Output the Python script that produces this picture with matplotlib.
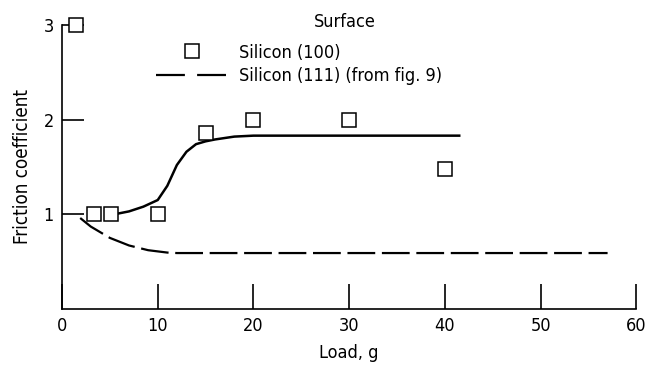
import matplotlib
matplotlib.use("Agg")
import matplotlib.pyplot as plt
from matplotlib.lines import Line2D

# Silicon (100) measured points
load_100 = [1.5, 3.3, 5.1, 10, 15, 20, 30, 40]
mu_100 = [3.0, 1.0, 1.0, 1.0, 1.86, 2.0, 2.0, 1.48]

# faired curve through silicon (100) data
fit_load = [5.5, 7, 8.5, 10, 11, 12, 13, 14, 15, 16, 18, 20, 41.5]
fit_mu = [1.0, 1.03, 1.08, 1.15, 1.30, 1.52, 1.66, 1.74, 1.77, 1.79, 1.82, 1.83, 1.83]

# silicon (111) from fig. 9
load_111 = [1.9, 3, 5, 7, 9, 11, 12, 20, 57]
mu_111 = [0.96, 0.87, 0.75, 0.67, 0.62, 0.595, 0.59, 0.59, 0.59]

xticks = [0, 10, 20, 30, 40, 50, 60]
yticks = [1, 2, 3]
labels = ['Silicon (100)', 'Silicon (111) (from fig. 9)']

plt.rcParams['font.family'] = ['DejaVu Sans']
plt.rcParams['font.stretch'] = 'condensed'

fig = plt.figure(figsize=(6.46, 3.66), dpi=100)
ax = fig.add_axes([0.096, 0.156, 0.889, 0.776])

ax.plot(fit_load, fit_mu, color='black', lw=1.8, zorder=2)
ax.plot(load_111, mu_111, color='black', lw=1.6, dashes=(12.5, 3), zorder=2)
ax.plot(load_100, mu_100, ls='none', marker='s', ms=10, mfc='white', mec='black',
        mew=1.1, clip_on=False, zorder=3)

ax.set_xlim(0, 60)
ax.set_ylim(0, 3)
ax.set_xticks(xticks)
ax.set_yticks(yticks)
ax.tick_params(axis='x', direction='in', length=18, width=1.2, labelsize=13, pad=6)
ax.tick_params(axis='y', direction='in', length=16, width=1.2, labelsize=13, pad=6)
for s in ['top', 'right']:
    ax.spines[s].set_visible(False)
for s in ['left', 'bottom']:
    ax.spines[s].set_linewidth(1.2)

ax.set_xlabel('Load, g', fontsize=13, labelpad=6)
ax.set_ylabel('Friction coefficient', fontsize=13.5, labelpad=8)

# legend
h_sq = Line2D([], [], ls='none', marker='s', ms=10, mfc='white', mec='black', mew=1.1)
h_ds = Line2D([], [], color='black', lw=1.6, dashes=(13, 5.5))
ax.legend([h_sq, h_ds], labels, frameon=False, fontsize=13,
          loc='upper left', bbox_to_anchor=(0.164, 0.934),
          handlelength=4.0, handletextpad=0.6, labelspacing=0.3, borderpad=0,
          borderaxespad=0)
ax.text(0.492, 1.01, 'Surface', transform=ax.transAxes, fontsize=13,
        ha='center', va='center')

fig.savefig('out.png', dpi=100)
